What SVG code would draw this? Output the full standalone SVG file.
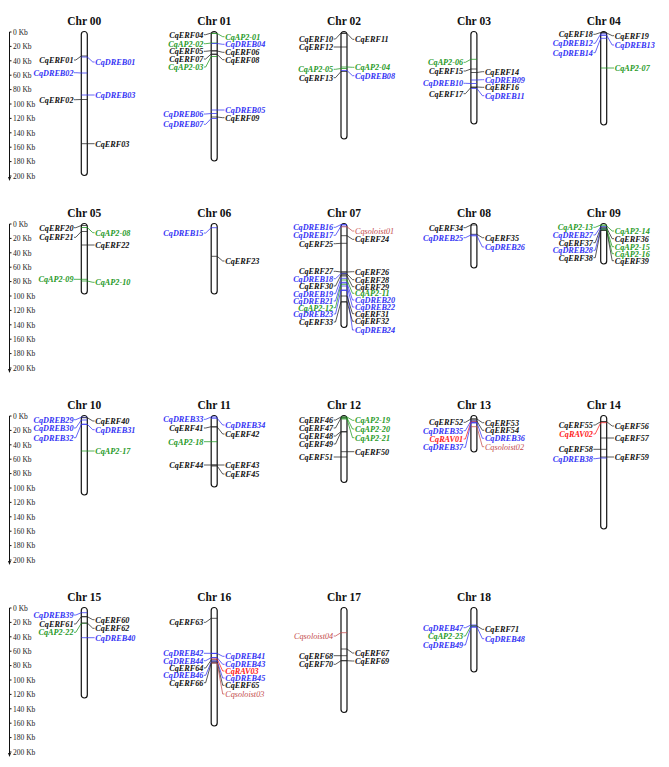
<svg xmlns="http://www.w3.org/2000/svg" width="669" height="767" viewBox="0 0 669 767">
<style>
.bg{fill:#fff}
.chr{fill:#fff;stroke:#111;stroke-width:1.2}
.tt{font-family:"Liberation Serif",serif;font-size:11.5px;font-weight:bold;fill:#111;text-anchor:middle}
.sc{font-family:"Liberation Serif",serif;font-size:7.5px;fill:#222}
.ax{fill:none;stroke:#111;stroke-width:1}
.t{font-family:"Liberation Serif",serif;font-size:8.2px;font-style:italic;font-weight:bold}
.e{text-anchor:end}
.k{fill:#111}.b{fill:#3434f4}.g{fill:#1f991f}.r{fill:#ff2020}.s{fill:#c44c4c;font-weight:normal}
path.ck,path.cb,path.cg,path.cr,path.cs{fill:none;stroke-width:.75}
.ck{stroke:#222}.cb{stroke:#3434f4}.cg{stroke:#1f991f}.cr{stroke:#ff2020}.cs{stroke:#c44c4c}
</style>
<rect class="bg" width="669" height="767"/>
<g id="scales">
<g id="scale-row1" transform="translate(0,32)"><path class="ax" d="M11.5,0H9.5V146M9.5,14.4h2M9.5,28.8h2M9.5,43.2h2M9.5,57.6h2M9.5,72h2M9.5,86.4h2M9.5,100.8h2M9.5,115.2h2M9.5,129.6h2M9.5,144h2"/><path d="M8,145L11,145L9.5,149Z" fill="#111"/>
<text class="sc" x="13" y="2.7">0 Kb</text><text class="sc" x="13" y="17.1">20 Kb</text><text class="sc" x="13" y="31.5">40 Kb</text><text class="sc" x="13" y="45.9">60 Kb</text><text class="sc" x="13" y="60.3">80 Kb</text><text class="sc" x="13" y="74.7">100 Kb</text><text class="sc" x="13" y="89.1">120 Kb</text><text class="sc" x="13" y="103.5">140 Kb</text><text class="sc" x="13" y="117.9">160 Kb</text><text class="sc" x="13" y="132.3">180 Kb</text><text class="sc" x="13" y="146.7">200 Kb</text></g>
<g id="scale-row2" transform="translate(0,224)"><path class="ax" d="M11.5,0H9.5V146M9.5,14.4h2M9.5,28.8h2M9.5,43.2h2M9.5,57.6h2M9.5,72h2M9.5,86.4h2M9.5,100.8h2M9.5,115.2h2M9.5,129.6h2M9.5,144h2"/><path d="M8,145L11,145L9.5,149Z" fill="#111"/>
<text class="sc" x="13" y="2.7">0 Kb</text><text class="sc" x="13" y="17.1">20 Kb</text><text class="sc" x="13" y="31.5">40 Kb</text><text class="sc" x="13" y="45.9">60 Kb</text><text class="sc" x="13" y="60.3">80 Kb</text><text class="sc" x="13" y="74.7">100 Kb</text><text class="sc" x="13" y="89.1">120 Kb</text><text class="sc" x="13" y="103.5">140 Kb</text><text class="sc" x="13" y="117.9">160 Kb</text><text class="sc" x="13" y="132.3">180 Kb</text><text class="sc" x="13" y="146.7">200 Kb</text></g>
<g id="scale-row3" transform="translate(0,416)"><path class="ax" d="M11.5,0H9.5V146M9.5,14.4h2M9.5,28.8h2M9.5,43.2h2M9.5,57.6h2M9.5,72h2M9.5,86.4h2M9.5,100.8h2M9.5,115.2h2M9.5,129.6h2M9.5,144h2"/><path d="M8,145L11,145L9.5,149Z" fill="#111"/>
<text class="sc" x="13" y="2.7">0 Kb</text><text class="sc" x="13" y="17.1">20 Kb</text><text class="sc" x="13" y="31.5">40 Kb</text><text class="sc" x="13" y="45.9">60 Kb</text><text class="sc" x="13" y="60.3">80 Kb</text><text class="sc" x="13" y="74.7">100 Kb</text><text class="sc" x="13" y="89.1">120 Kb</text><text class="sc" x="13" y="103.5">140 Kb</text><text class="sc" x="13" y="117.9">160 Kb</text><text class="sc" x="13" y="132.3">180 Kb</text><text class="sc" x="13" y="146.7">200 Kb</text></g>
<g id="scale-row4" transform="translate(0,608)"><path class="ax" d="M11.5,0H9.5V146M9.5,14.4h2M9.5,28.8h2M9.5,43.2h2M9.5,57.6h2M9.5,72h2M9.5,86.4h2M9.5,100.8h2M9.5,115.2h2M9.5,129.6h2M9.5,144h2"/><path d="M8,145L11,145L9.5,149Z" fill="#111"/>
<text class="sc" x="13" y="2.7">0 Kb</text><text class="sc" x="13" y="17.1">20 Kb</text><text class="sc" x="13" y="31.5">40 Kb</text><text class="sc" x="13" y="45.9">60 Kb</text><text class="sc" x="13" y="60.3">80 Kb</text><text class="sc" x="13" y="74.7">100 Kb</text><text class="sc" x="13" y="89.1">120 Kb</text><text class="sc" x="13" y="103.5">140 Kb</text><text class="sc" x="13" y="117.9">160 Kb</text><text class="sc" x="13" y="132.3">180 Kb</text><text class="sc" x="13" y="146.7">200 Kb</text></g>
</g>
<g id="chromosomes">
<g id="chr00" transform="translate(84.3,0)"><text class="tt" x="0" y="25">Chr 00</text><rect class="chr" x="-3" y="31.5" width="6" height="144" rx="3"/></g>
<g id="chr01" transform="translate(214.2,0)"><text class="tt" x="0" y="25">Chr 01</text><rect class="chr" x="-3" y="31.5" width="6" height="129.5" rx="3"/></g>
<g id="chr02" transform="translate(344,0)"><text class="tt" x="0" y="25">Chr 02</text><rect class="chr" x="-3" y="31.5" width="6" height="107.5" rx="3"/></g>
<g id="chr03" transform="translate(473.9,0)"><text class="tt" x="0" y="25">Chr 03</text><rect class="chr" x="-3" y="31.5" width="6" height="92.5" rx="3"/></g>
<g id="chr04" transform="translate(603.7,0)"><text class="tt" x="0" y="25">Chr 04</text><rect class="chr" x="-3" y="31.5" width="6" height="93.5" rx="3"/></g>
<g id="chr05" transform="translate(84.3,0)"><text class="tt" x="0" y="217">Chr 05</text><rect class="chr" x="-3" y="223.5" width="6" height="70.5" rx="3"/></g>
<g id="chr06" transform="translate(214.2,0)"><text class="tt" x="0" y="217">Chr 06</text><rect class="chr" x="-3" y="223.5" width="6" height="70.5" rx="3"/></g>
<g id="chr07" transform="translate(344,0)"><text class="tt" x="0" y="217">Chr 07</text><rect class="chr" x="-3" y="223.5" width="6" height="104" rx="3"/></g>
<g id="chr08" transform="translate(473.9,0)"><text class="tt" x="0" y="217">Chr 08</text><rect class="chr" x="-3" y="223.5" width="6" height="44.5" rx="3"/></g>
<g id="chr09" transform="translate(603.7,0)"><text class="tt" x="0" y="217">Chr 09</text><rect class="chr" x="-3" y="223.5" width="6" height="40.5" rx="3"/></g>
<g id="chr10" transform="translate(84.3,0)"><text class="tt" x="0" y="409">Chr 10</text><rect class="chr" x="-3" y="415.5" width="6" height="79.5" rx="3"/></g>
<g id="chr11" transform="translate(214.2,0)"><text class="tt" x="0" y="409">Chr 11</text><rect class="chr" x="-3" y="415.5" width="6" height="71.5" rx="3"/></g>
<g id="chr12" transform="translate(344,0)"><text class="tt" x="0" y="409">Chr 12</text><rect class="chr" x="-3" y="415.5" width="6" height="67" rx="3"/></g>
<g id="chr13" transform="translate(473.9,0)"><text class="tt" x="0" y="409">Chr 13</text><rect class="chr" x="-3" y="415.5" width="6" height="36.5" rx="3"/></g>
<g id="chr14" transform="translate(603.7,0)"><text class="tt" x="0" y="409">Chr 14</text><rect class="chr" x="-3" y="415.5" width="6" height="113.5" rx="3"/></g>
<g id="chr15" transform="translate(84.3,0)"><text class="tt" x="0" y="601">Chr 15</text><rect class="chr" x="-3" y="607.5" width="6" height="90.5" rx="3"/></g>
<g id="chr16" transform="translate(214.2,0)"><text class="tt" x="0" y="601">Chr 16</text><rect class="chr" x="-3" y="607.5" width="6" height="118.5" rx="3"/></g>
<g id="chr17" transform="translate(344,0)"><text class="tt" x="0" y="601">Chr 17</text><rect class="chr" x="-3" y="607.5" width="6" height="105" rx="3"/></g>
<g id="chr18" transform="translate(473.9,0)"><text class="tt" x="0" y="601">Chr 18</text><rect class="chr" x="-3" y="607.5" width="6" height="64.5" rx="3"/></g>
</g>
<g id="connectors">
<g transform="translate(84.3,0)">
<path class="ck" d="M-10.3,60H-8.5L-3,56H3"/><path class="cb" d="M-3,57H3L8.5,62H10.3"/><path class="cb" d="M-10.3,72.7H-8.5L-3,73H3"/><path class="cb" d="M-3,95H10.3"/><path class="ck" d="M-10.3,99.7H-8.5L-3,99.5H3"/><path class="ck" d="M-3,143.7H10.3"/>
<path class="ck" d="M-10.3,227.7H-8.5L-3,225.5H3"/><path class="cg" d="M-3,227.5H3L8.5,232.7H10.3"/><path class="ck" d="M-10.3,237.3H-8.5L-3,231.5H3"/><path class="ck" d="M-3,245H10.3"/><path class="cg" d="M-10.3,279.3H3"/><path class="cg" d="M-3,281H3L8.5,282.3H10.3"/>
<path class="cb" d="M-10.3,419.7H-8.5L-3,417.3H3"/><path class="ck" d="M-3,417.7H3L8.5,421H10.3"/><path class="cb" d="M-10.3,428H-8.5L-3,420H3"/><path class="cb" d="M-10.3,437.7H-8.5L-3,424.3H3"/><path class="cb" d="M-3,424.3H3L8.5,429.7H10.3"/><path class="cg" d="M-3,451H10.3"/>
<path class="cb" d="M-10.3,615H-8.5L-3,612.7H3"/><path class="ck" d="M-10.3,624H-8.5L-3,616.7H3"/><path class="ck" d="M-3,616.7H3L8.5,619.7H10.3"/><path class="cg" d="M-10.3,632.3H-8.5L-3,623.3H3"/><path class="ck" d="M-3,623H3L8.5,628.3H10.3"/><path class="cb" d="M-3,637.7H10.3"/>
</g>
<g transform="translate(214.2,0)">
<path class="ck" d="M-10.3,34.7H-8.5L-3,33H3"/><path class="cg" d="M-10.3,43.7H-8.5L-3,43H3"/><path class="ck" d="M-10.3,51.3H-8.5L-3,50.7H3"/><path class="ck" d="M-10.3,59H-8.5L-3,54H3"/><path class="cg" d="M-10.3,67H-8.5L-3,56.5H3"/><path class="cg" d="M-3,33.5H3L8.5,36.7H10.3"/><path class="cb" d="M-3,43.5H3L8.5,44.3H10.3"/><path class="ck" d="M-3,51H3L8.5,52.3H10.3"/><path class="ck" d="M-3,54.5H3L8.5,59.7H10.3"/><path class="cb" d="M-3,110H10.3"/><path class="cb" d="M-10.3,114H-8.5L-3,113.5H3"/><path class="ck" d="M-3,117H3L8.5,117.7H10.3"/><path class="cb" d="M-10.3,124.3H-8.5L-3,118.5H3"/>
<path class="cb" d="M-10.3,233H-8.5L-3,227.7H3"/><path class="ck" d="M-3,256.3H3L8.5,261H10.3"/>
<path class="cb" d="M-10.3,419.3H-8.5L-3,417H3"/><path class="cb" d="M-3,418.3H3L8.5,425H10.3"/><path class="ck" d="M-10.3,428H-8.5L-3,426.7H3"/><path class="ck" d="M-3,427H3L8.5,434H10.3"/><path class="cg" d="M-10.3,441.7H3"/><path class="ck" d="M-10.3,465H3"/><path class="ck" d="M-3,465H10.3"/><path class="ck" d="M-3,466H3L8.5,474H10.3"/>
<path class="ck" d="M-10.3,622.3H-8.5L-3,618.3H3"/><path class="cb" d="M-10.3,653.3H3"/><path class="cb" d="M-3,653.5H3L8.5,656.3H10.3"/><path class="cb" d="M-10.3,660.7H-8.5L-3,657.7H3"/><path class="cb" d="M-3,657.7H3L8.5,664.3H10.3"/><path class="cr" d="M-3,659H3L8.5,671H10.3"/><path class="ck" d="M-10.3,668H-8.5L-3,660H3"/><path class="cb" d="M-3,661H3L8.5,678H10.3"/><path class="cb" d="M-10.3,675.3H-8.5L-3,662H3"/><path class="ck" d="M-3,662H3L8.5,685.3H10.3"/><path class="ck" d="M-10.3,682.7H-8.5L-3,663H3"/><path class="cs" d="M-3,663H3L8.5,694H10.3"/>
</g>
<g transform="translate(344,0)">
<path class="ck" d="M-10.3,39H-8.5L-3,33H3"/><path class="ck" d="M-3,33.5H3L8.5,39.3H10.3"/><path class="ck" d="M-10.3,47H3"/><path class="cg" d="M-3,67H3L8.5,67.3H10.3"/><path class="cg" d="M-10.3,69.3H-8.5L-3,68.5H3"/><path class="cb" d="M-3,70.5H3L8.5,75.7H10.3"/><path class="ck" d="M-10.3,77.7H-8.5L-3,71.5H3"/>
<path class="cb" d="M-10.3,227.3H-8.5L-3,224.5H3"/><path class="cb" d="M-10.3,235.3H-8.5L-3,226H3"/><path class="cs" d="M-3,226.8H3L8.5,231H10.3"/><path class="ck" d="M-3,235.7H3L8.5,239.3H10.3"/><path class="ck" d="M-10.3,243.7H-8.5L-3,243.3H3"/><path class="ck" d="M-10.3,271.3H-8.5L-3,272H3"/><path class="ck" d="M-3,272H3L8.5,271.7H10.3"/><path class="cb" d="M-10.3,278.7H-8.5L-3,273.5H3"/><path class="ck" d="M-3,274H3L8.5,279.7H10.3"/><path class="ck" d="M-10.3,286H-8.5L-3,275H3"/><path class="ck" d="M-3,276H3L8.5,286.7H10.3"/><path class="cb" d="M-10.3,293.7H-8.5L-3,278.3H3"/><path class="cg" d="M-3,280H3L8.5,293.3H10.3"/><path class="cb" d="M-10.3,301H-8.5L-3,282.3H3"/><path class="cb" d="M-3,283H3L8.5,300H10.3"/><path class="cg" d="M-10.3,307.7H-8.5L-3,284.3H3"/><path class="cb" d="M-3,286H3L8.5,307H10.3"/><path class="cb" d="M-10.3,314H-8.5L-3,290H3"/><path class="cb" d="M-3,290.5H3L8.5,330H10.3"/><path class="ck" d="M-3,296H3L8.5,313.7H10.3"/><path class="ck" d="M-10.3,322H-8.5L-3,301.7H3"/><path class="ck" d="M-3,302H3L8.5,321.3H10.3"/>
<path class="ck" d="M-10.3,420H-8.5L-3,417H3"/><path class="cg" d="M-3,417H3L8.5,420.3H10.3"/><path class="ck" d="M-10.3,428H-8.5L-3,418H3"/><path class="cg" d="M-3,418H3L8.5,429H10.3"/><path class="cg" d="M-3,419H3L8.5,437.7H10.3"/><path class="ck" d="M-10.3,436H-8.5L-3,431.5H3"/><path class="ck" d="M-10.3,444H-8.5L-3,432H3"/><path class="ck" d="M-3,451.7H10.3"/><path class="ck" d="M-10.3,457H3"/>
<path class="cs" d="M-10.3,636H-8.5L-3,632.7H3"/><path class="ck" d="M-3,649H3L8.5,653H10.3"/><path class="ck" d="M-10.3,655.7H3"/><path class="ck" d="M-10.3,664.3H-8.5L-3,660.7H3"/><path class="ck" d="M-3,660.7H3L8.5,661H10.3"/>
</g>
<g transform="translate(473.9,0)">
<path class="cg" d="M-10.3,62.3H-8.5L-3,59.3H3"/><path class="ck" d="M-10.3,71H-8.5L-3,69H3"/><path class="ck" d="M-3,72.5H3L8.5,71.7H10.3"/><path class="cb" d="M-3,80H3L8.5,79.7H10.3"/><path class="cb" d="M-10.3,83.3H-8.5L-3,83.5H3"/><path class="ck" d="M-3,87H3L8.5,87.3H10.3"/><path class="ck" d="M-10.3,93.7H-8.5L-3,87.5H3"/><path class="cb" d="M-3,88.5H3L8.5,95.7H10.3"/>
<path class="ck" d="M-10.3,227.7H-8.5L-3,225H3"/><path class="ck" d="M-3,234.3H3L8.5,237.7H10.3"/><path class="cb" d="M-10.3,237.7H-8.5L-3,235H3"/><path class="cb" d="M-3,235.8H3L8.5,247H10.3"/>
<path class="ck" d="M-10.3,422.3H-8.5L-3,419H3"/><path class="ck" d="M-3,419H3L8.5,422.7H10.3"/><path class="cb" d="M-10.3,430.7H-8.5L-3,421H3"/><path class="ck" d="M-3,421H3L8.5,430.3H10.3"/><path class="cr" d="M-10.3,439H-8.5L-3,422H3"/><path class="cb" d="M-3,422.5H3L8.5,438.3H10.3"/><path class="cb" d="M-10.3,447.3H-8.5L-3,423H3"/><path class="cs" d="M-3,426.7H3L8.5,446.7H10.3"/>
<path class="cb" d="M-10.3,627.7H-8.5L-3,625H3"/><path class="cg" d="M-10.3,636H-8.5L-3,626H3"/><path class="ck" d="M-3,626H3L8.5,629.3H10.3"/><path class="cb" d="M-10.3,645H-8.5L-3,627H3"/><path class="cb" d="M-3,627H3L8.5,638.7H10.3"/>
</g>
<g transform="translate(603.7,0)">
<path class="ck" d="M-10.3,34.3H-8.5L-3,32.5H3"/><path class="ck" d="M-3,33H3L8.5,35.7H10.3"/><path class="cb" d="M-10.3,43.3H-8.5L-3,34H3"/><path class="cb" d="M-3,35.5H3L8.5,45H10.3"/><path class="cb" d="M-10.3,52.7H-8.5L-3,38.3H3"/><path class="cg" d="M-3,68H10.3"/>
<path class="cg" d="M-10.3,227.3H-8.5L-3,225H3"/><path class="cg" d="M-3,226H3L8.5,231H10.3"/><path class="cb" d="M-10.3,235H-8.5L-3,226.7H3"/><path class="ck" d="M-10.3,242.7H-8.5L-3,228H3"/><path class="ck" d="M-3,228H3L8.5,238.7H10.3"/><path class="cb" d="M-10.3,250.3H-8.5L-3,229H3"/><path class="cg" d="M-3,229H3L8.5,246.7H10.3"/><path class="ck" d="M-10.3,257.7H-8.5L-3,230H3"/><path class="cg" d="M-3,230H3L8.5,253.7H10.3"/><path class="ck" d="M-3,230.5H3L8.5,260.7H10.3"/>
<path class="ck" d="M-10.3,425H-8.5L-3,421.7H3"/><path class="ck" d="M-3,421.7H3L8.5,426H10.3"/><path class="cr" d="M-10.3,434H-8.5L-3,422.7H3"/><path class="ck" d="M-3,438H10.3"/><path class="ck" d="M-10.3,449.3H3"/><path class="ck" d="M-3,457H10.3"/><path class="cb" d="M-10.3,458.7H-8.5L-3,458H3"/>
</g>
</g>
<g id="genes">
<g transform="translate(84.3,0)">
<g id="CqERF01"><text class="t k e" x="-10.8" y="62.8">CqERF01</text></g>
<g id="CqDREB01"><text class="t b" x="11" y="64.8">CqDREB01</text></g>
<g id="CqDREB02"><text class="t b e" x="-10.8" y="75.5">CqDREB02</text></g>
<g id="CqDREB03"><text class="t b" x="11" y="97.8">CqDREB03</text></g>
<g id="CqERF02"><text class="t k e" x="-10.8" y="102.5">CqERF02</text></g>
<g id="CqERF03"><text class="t k" x="11" y="146.5">CqERF03</text></g>
<g id="CqERF20"><text class="t k e" x="-10.8" y="230.5">CqERF20</text></g>
<g id="CqAP2-08"><text class="t g" x="11" y="235.5">CqAP2-08</text></g>
<g id="CqERF21"><text class="t k e" x="-10.8" y="240.1">CqERF21</text></g>
<g id="CqERF22"><text class="t k" x="11" y="247.8">CqERF22</text></g>
<g id="CqAP2-09"><text class="t g e" x="-10.8" y="282.1">CqAP2-09</text></g>
<g id="CqAP2-10"><text class="t g" x="11" y="285.1">CqAP2-10</text></g>
<g id="CqDREB29"><text class="t b e" x="-10.8" y="422.5">CqDREB29</text></g>
<g id="CqERF40"><text class="t k" x="11" y="423.8">CqERF40</text></g>
<g id="CqDREB30"><text class="t b e" x="-10.8" y="430.8">CqDREB30</text></g>
<g id="CqDREB32"><text class="t b e" x="-10.8" y="440.5">CqDREB32</text></g>
<g id="CqDREB31"><text class="t b" x="11" y="432.5">CqDREB31</text></g>
<g id="CqAP2-17"><text class="t g" x="11" y="453.8">CqAP2-17</text></g>
<g id="CqDREB39"><text class="t b e" x="-10.8" y="617.8">CqDREB39</text></g>
<g id="CqERF61"><text class="t k e" x="-10.8" y="626.8">CqERF61</text></g>
<g id="CqERF60"><text class="t k" x="11" y="622.5">CqERF60</text></g>
<g id="CqAP2-22"><text class="t g e" x="-10.8" y="635.1">CqAP2-22</text></g>
<g id="CqERF62"><text class="t k" x="11" y="631.1">CqERF62</text></g>
<g id="CqDREB40"><text class="t b" x="11" y="640.5">CqDREB40</text></g>
</g>
<g transform="translate(214.2,0)">
<g id="CqERF04"><text class="t k e" x="-10.8" y="37.5">CqERF04</text></g>
<g id="CqAP2-02"><text class="t g e" x="-10.8" y="46.5">CqAP2-02</text></g>
<g id="CqERF05"><text class="t k e" x="-10.8" y="54.1">CqERF05</text></g>
<g id="CqERF07"><text class="t k e" x="-10.8" y="61.8">CqERF07</text></g>
<g id="CqAP2-03"><text class="t g e" x="-10.8" y="69.8">CqAP2-03</text></g>
<g id="CqAP2-01"><text class="t g" x="11" y="39.5">CqAP2-01</text></g>
<g id="CqDREB04"><text class="t b" x="11" y="47.1">CqDREB04</text></g>
<g id="CqERF06"><text class="t k" x="11" y="55.1">CqERF06</text></g>
<g id="CqERF08"><text class="t k" x="11" y="62.5">CqERF08</text></g>
<g id="CqDREB05"><text class="t b" x="11" y="112.8">CqDREB05</text></g>
<g id="CqDREB06"><text class="t b e" x="-10.8" y="116.8">CqDREB06</text></g>
<g id="CqERF09"><text class="t k" x="11" y="120.5">CqERF09</text></g>
<g id="CqDREB07"><text class="t b e" x="-10.8" y="127.1">CqDREB07</text></g>
<g id="CqDREB15"><text class="t b e" x="-10.8" y="235.8">CqDREB15</text></g>
<g id="CqERF23"><text class="t k" x="11" y="263.8">CqERF23</text></g>
<g id="CqDREB33"><text class="t b e" x="-10.8" y="422.1">CqDREB33</text></g>
<g id="CqDREB34"><text class="t b" x="11" y="427.8">CqDREB34</text></g>
<g id="CqERF41"><text class="t k e" x="-10.8" y="430.8">CqERF41</text></g>
<g id="CqERF42"><text class="t k" x="11" y="436.8">CqERF42</text></g>
<g id="CqAP2-18"><text class="t g e" x="-10.8" y="444.5">CqAP2-18</text></g>
<g id="CqERF44"><text class="t k e" x="-10.8" y="467.8">CqERF44</text></g>
<g id="CqERF43"><text class="t k" x="11" y="467.8">CqERF43</text></g>
<g id="CqERF45"><text class="t k" x="11" y="476.8">CqERF45</text></g>
<g id="CqERF63"><text class="t k e" x="-10.8" y="625.1">CqERF63</text></g>
<g id="CqDREB42"><text class="t b e" x="-10.8" y="656.1">CqDREB42</text></g>
<g id="CqDREB41"><text class="t b" x="11" y="659.1">CqDREB41</text></g>
<g id="CqDREB44"><text class="t b e" x="-10.8" y="663.5">CqDREB44</text></g>
<g id="CqDREB43"><text class="t b" x="11" y="667.1">CqDREB43</text></g>
<g id="CqRAV03"><text class="t r" x="11" y="673.8">CqRAV03</text></g>
<g id="CqERF64"><text class="t k e" x="-10.8" y="670.8">CqERF64</text></g>
<g id="CqDREB45"><text class="t b" x="11" y="680.8">CqDREB45</text></g>
<g id="CqDREB46"><text class="t b e" x="-10.8" y="678.1">CqDREB46</text></g>
<g id="CqERF65"><text class="t k" x="11" y="688.1">CqERF65</text></g>
<g id="CqERF66"><text class="t k e" x="-10.8" y="685.5">CqERF66</text></g>
<g id="Cqsoloist03"><text class="t s" x="11" y="696.8">Cqsoloist03</text></g>
</g>
<g transform="translate(344,0)">
<g id="CqERF10"><text class="t k e" x="-10.8" y="41.8">CqERF10</text></g>
<g id="CqERF11"><text class="t k" x="11" y="42.1">CqERF11</text></g>
<g id="CqERF12"><text class="t k e" x="-10.8" y="49.8">CqERF12</text></g>
<g id="CqAP2-04"><text class="t g" x="11" y="70.1">CqAP2-04</text></g>
<g id="CqAP2-05"><text class="t g e" x="-10.8" y="72.1">CqAP2-05</text></g>
<g id="CqDREB08"><text class="t b" x="11" y="78.5">CqDREB08</text></g>
<g id="CqERF13"><text class="t k e" x="-10.8" y="80.5">CqERF13</text></g>
<g id="CqDREB16"><text class="t b e" x="-10.8" y="230.1">CqDREB16</text></g>
<g id="CqDREB17"><text class="t b e" x="-10.8" y="238.1">CqDREB17</text></g>
<g id="Cqsoloist01"><text class="t s" x="11" y="233.8">Cqsoloist01</text></g>
<g id="CqERF24"><text class="t k" x="11" y="242.1">CqERF24</text></g>
<g id="CqERF25"><text class="t k e" x="-10.8" y="246.5">CqERF25</text></g>
<g id="CqERF27"><text class="t k e" x="-10.8" y="274.1">CqERF27</text></g>
<g id="CqERF26"><text class="t k" x="11" y="274.5">CqERF26</text></g>
<g id="CqDREB18"><text class="t b e" x="-10.8" y="281.5">CqDREB18</text></g>
<g id="CqERF28"><text class="t k" x="11" y="282.5">CqERF28</text></g>
<g id="CqERF30"><text class="t k e" x="-10.8" y="288.8">CqERF30</text></g>
<g id="CqERF29"><text class="t k" x="11" y="289.5">CqERF29</text></g>
<g id="CqDREB19"><text class="t b e" x="-10.8" y="296.5">CqDREB19</text></g>
<g id="CqAP2-11"><text class="t g" x="11" y="296.1">CqAP2-11</text></g>
<g id="CqDREB21"><text class="t b e" x="-10.8" y="303.8">CqDREB21</text></g>
<g id="CqDREB20"><text class="t b" x="11" y="302.8">CqDREB20</text></g>
<g id="CqAP2-12"><text class="t g e" x="-10.8" y="310.5">CqAP2-12</text></g>
<g id="CqDREB22"><text class="t b" x="11" y="309.8">CqDREB22</text></g>
<g id="CqDREB23"><text class="t b e" x="-10.8" y="316.8">CqDREB23</text></g>
<g id="CqERF31"><text class="t k" x="11" y="316.5">CqERF31</text></g>
<g id="CqERF33"><text class="t k e" x="-10.8" y="324.8">CqERF33</text></g>
<g id="CqERF32"><text class="t k" x="11" y="324.1">CqERF32</text></g>
<g id="CqDREB24"><text class="t b" x="11" y="332.8">CqDREB24</text></g>
<g id="CqERF46"><text class="t k e" x="-10.8" y="422.8">CqERF46</text></g>
<g id="CqAP2-19"><text class="t g" x="11" y="423.1">CqAP2-19</text></g>
<g id="CqERF47"><text class="t k e" x="-10.8" y="430.8">CqERF47</text></g>
<g id="CqAP2-20"><text class="t g" x="11" y="431.8">CqAP2-20</text></g>
<g id="CqAP2-21"><text class="t g" x="11" y="440.5">CqAP2-21</text></g>
<g id="CqERF48"><text class="t k e" x="-10.8" y="438.8">CqERF48</text></g>
<g id="CqERF49"><text class="t k e" x="-10.8" y="446.8">CqERF49</text></g>
<g id="CqERF50"><text class="t k" x="11" y="454.5">CqERF50</text></g>
<g id="CqERF51"><text class="t k e" x="-10.8" y="459.8">CqERF51</text></g>
<g id="Cqsoloist04"><text class="t s e" x="-10.8" y="638.8">Cqsoloist04</text></g>
<g id="CqERF67"><text class="t k" x="11" y="655.8">CqERF67</text></g>
<g id="CqERF68"><text class="t k e" x="-10.8" y="658.5">CqERF68</text></g>
<g id="CqERF70"><text class="t k e" x="-10.8" y="667.1">CqERF70</text></g>
<g id="CqERF69"><text class="t k" x="11" y="663.8">CqERF69</text></g>
</g>
<g transform="translate(473.9,0)">
<g id="CqAP2-06"><text class="t g e" x="-10.8" y="65.1">CqAP2-06</text></g>
<g id="CqERF15"><text class="t k e" x="-10.8" y="73.8">CqERF15</text></g>
<g id="CqERF14"><text class="t k" x="11" y="74.5">CqERF14</text></g>
<g id="CqDREB09"><text class="t b" x="11" y="82.5">CqDREB09</text></g>
<g id="CqDREB10"><text class="t b e" x="-10.8" y="86.1">CqDREB10</text></g>
<g id="CqERF16"><text class="t k" x="11" y="90.1">CqERF16</text></g>
<g id="CqERF17"><text class="t k e" x="-10.8" y="96.5">CqERF17</text></g>
<g id="CqDREB11"><text class="t b" x="11" y="98.5">CqDREB11</text></g>
<g id="CqERF34"><text class="t k e" x="-10.8" y="230.5">CqERF34</text></g>
<g id="CqERF35"><text class="t k" x="11" y="240.5">CqERF35</text></g>
<g id="CqDREB25"><text class="t b e" x="-10.8" y="240.5">CqDREB25</text></g>
<g id="CqDREB26"><text class="t b" x="11" y="249.8">CqDREB26</text></g>
<g id="CqERF52"><text class="t k e" x="-10.8" y="425.1">CqERF52</text></g>
<g id="CqERF53"><text class="t k" x="11" y="425.5">CqERF53</text></g>
<g id="CqDREB35"><text class="t b e" x="-10.8" y="433.5">CqDREB35</text></g>
<g id="CqERF54"><text class="t k" x="11" y="433.1">CqERF54</text></g>
<g id="CqRAV01"><text class="t r e" x="-10.8" y="441.8">CqRAV01</text></g>
<g id="CqDREB36"><text class="t b" x="11" y="441.1">CqDREB36</text></g>
<g id="CqDREB37"><text class="t b e" x="-10.8" y="450.1">CqDREB37</text></g>
<g id="Cqsoloist02"><text class="t s" x="11" y="449.5">Cqsoloist02</text></g>
<g id="CqDREB47"><text class="t b e" x="-10.8" y="630.5">CqDREB47</text></g>
<g id="CqAP2-23"><text class="t g e" x="-10.8" y="638.8">CqAP2-23</text></g>
<g id="CqERF71"><text class="t k" x="11" y="632.1">CqERF71</text></g>
<g id="CqDREB49"><text class="t b e" x="-10.8" y="647.8">CqDREB49</text></g>
<g id="CqDREB48"><text class="t b" x="11" y="641.5">CqDREB48</text></g>
</g>
<g transform="translate(603.7,0)">
<g id="CqERF18"><text class="t k e" x="-10.8" y="37.1">CqERF18</text></g>
<g id="CqERF19"><text class="t k" x="11" y="38.5">CqERF19</text></g>
<g id="CqDREB12"><text class="t b e" x="-10.8" y="46.1">CqDREB12</text></g>
<g id="CqDREB13"><text class="t b" x="11" y="47.8">CqDREB13</text></g>
<g id="CqDREB14"><text class="t b e" x="-10.8" y="55.5">CqDREB14</text></g>
<g id="CqAP2-07"><text class="t g" x="11" y="70.8">CqAP2-07</text></g>
<g id="CqAP2-13"><text class="t g e" x="-10.8" y="230.1">CqAP2-13</text></g>
<g id="CqAP2-14"><text class="t g" x="11" y="233.8">CqAP2-14</text></g>
<g id="CqDREB27"><text class="t b e" x="-10.8" y="237.8">CqDREB27</text></g>
<g id="CqERF37"><text class="t k e" x="-10.8" y="245.5">CqERF37</text></g>
<g id="CqERF36"><text class="t k" x="11" y="241.5">CqERF36</text></g>
<g id="CqDREB28"><text class="t b e" x="-10.8" y="253.1">CqDREB28</text></g>
<g id="CqAP2-15"><text class="t g" x="11" y="249.5">CqAP2-15</text></g>
<g id="CqERF38"><text class="t k e" x="-10.8" y="260.5">CqERF38</text></g>
<g id="CqAP2-16"><text class="t g" x="11" y="256.5">CqAP2-16</text></g>
<g id="CqERF39"><text class="t k" x="11" y="263.5">CqERF39</text></g>
<g id="CqERF55"><text class="t k e" x="-10.8" y="427.8">CqERF55</text></g>
<g id="CqERF56"><text class="t k" x="11" y="428.8">CqERF56</text></g>
<g id="CqRAV02"><text class="t r e" x="-10.8" y="436.8">CqRAV02</text></g>
<g id="CqERF57"><text class="t k" x="11" y="440.8">CqERF57</text></g>
<g id="CqERF58"><text class="t k e" x="-10.8" y="452.1">CqERF58</text></g>
<g id="CqERF59"><text class="t k" x="11" y="459.8">CqERF59</text></g>
<g id="CqDREB38"><text class="t b e" x="-10.8" y="461.5">CqDREB38</text></g>
</g>
</g>
</svg>
